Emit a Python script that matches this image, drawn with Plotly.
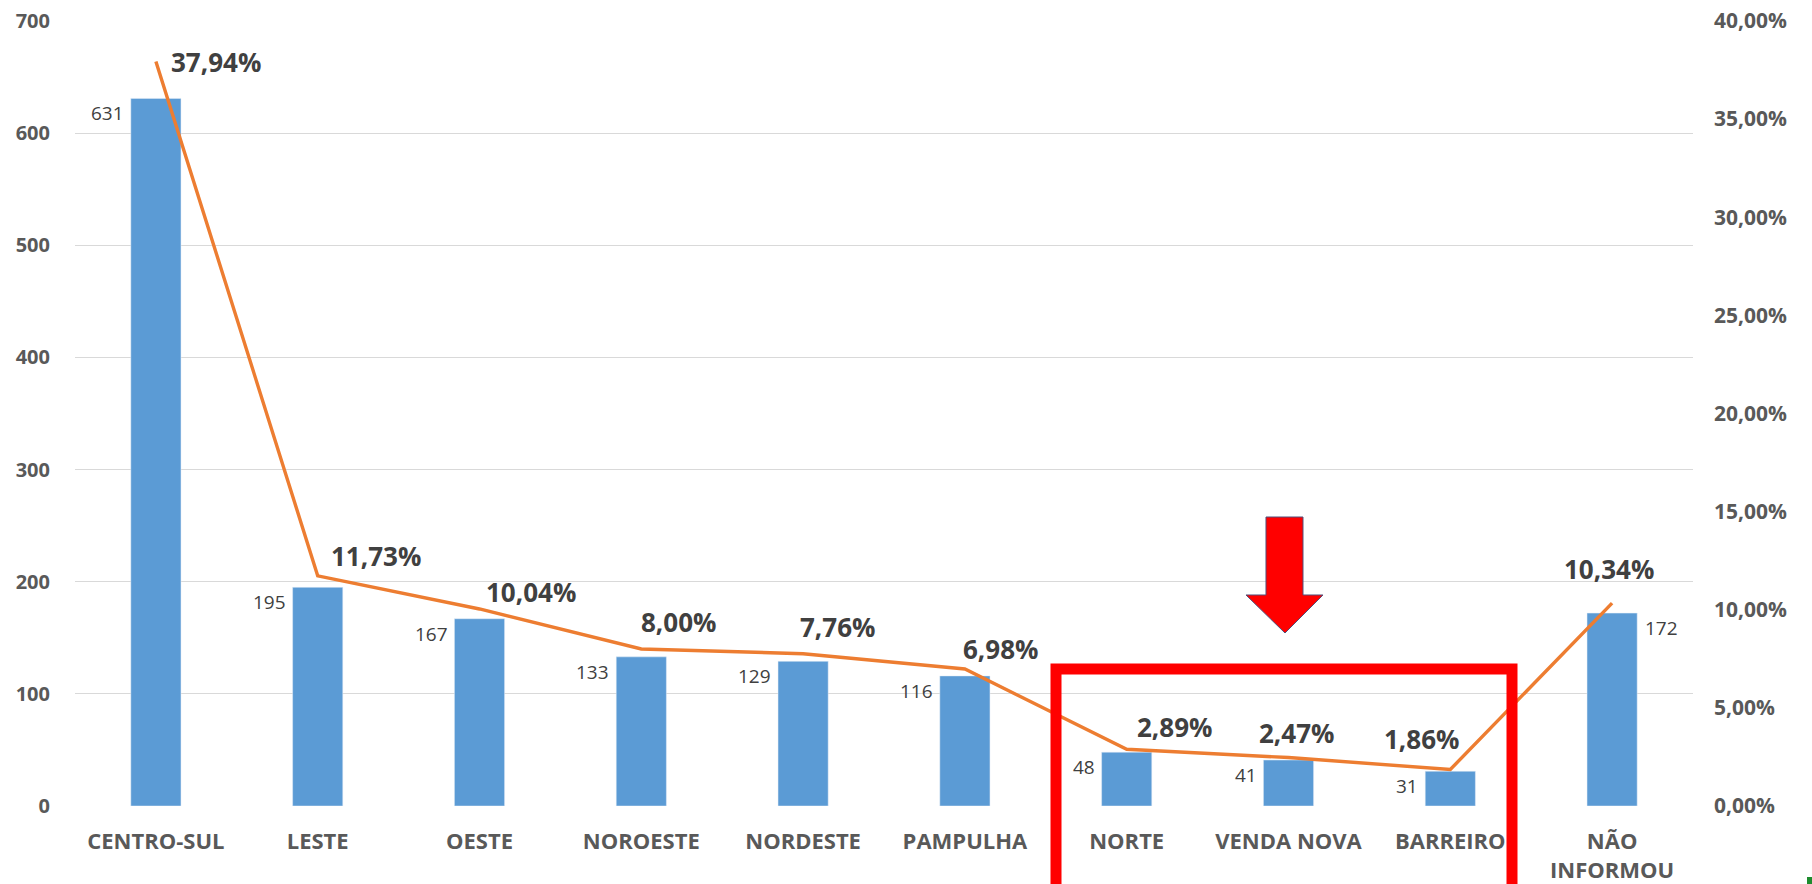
import plotly.graph_objects as go

# ---------------- data ----------------
categories = ["CENTRO-SUL", "LESTE", "OESTE", "NOROESTE", "NORDESTE",
              "PAMPULHA", "NORTE", "VENDA NOVA", "BARREIRO", "NÃO<br>INFORMOU"]
counts = [631, 195, 167, 133, 129, 116, 48, 41, 31, 172]
percents = [37.94, 11.73, 10.04, 8.00, 7.76, 6.98, 2.89, 2.47, 1.86, 10.34]
left_ticks = [0, 100, 200, 300, 400, 500, 600, 700]
right_ticks = [0, 5, 10, 15, 20, 25, 30, 35, 40]
right_tick_text = [f"{t:.2f}%".replace(".", ",") for t in right_ticks]

# ---------------- style ----------------
W, H = 1812, 884
ML, MR, MT, MB = 75, 119, 21, 78
BAR_COLOR = "#5B9BD5"
LINE_COLOR = "#ED7D31"
GRID = "#D9D9D9"
AXIS_TXT = "#595959"
LBL_TXT = "#404040"
FONT = "Open Sans, Noto Sans, sans-serif"

# pixel offsets of the percent labels relative to their point (dx, dy up)
pct_shift = [(60, -1), (58, 20), (51, 17), (37, 27), (34, 27),
             (36, 20), (48, 22), (8, 25), (-29, 31), (-3, 34)]
# which side of the bar the count label sits on
count_side = ["left"] * 9 + ["right"]

fig = go.Figure()
fig.add_trace(go.Bar(
    x=categories, y=counts, marker_color=BAR_COLOR, width=0.31,
    yaxis="y", hoverinfo="skip", showlegend=False))
fig.add_trace(go.Scatter(
    x=categories, y=percents, mode="lines", yaxis="y2",
    line=dict(color=LINE_COLOR, width=3.4), hoverinfo="skip", showlegend=False))

annotations = []
for c, v, side in zip(categories, counts, count_side):
    annotations.append(dict(
        x=c, y=v, xref="x", yref="y", text=str(v), showarrow=False,
        xanchor="right" if side == "left" else "left", yanchor="middle",
        xshift=-30 if side == "left" else 31, yshift=-15,
        font=dict(family=FONT, size=19, color=LBL_TXT)))
for c, p, (dx, dy) in zip(categories, percents, pct_shift):
    annotations.append(dict(
        x=c, y=p, xref="x", yref="y2",
        text=f"<b>{p:.2f}%</b>".replace(".", ","), showarrow=False,
        xanchor="center", yanchor="middle", xshift=dx, yshift=dy,
        font=dict(family=FONT, size=26, color=LBL_TXT)))


def px(x):
    return (x - ML) / (W - ML - MR)


def py(y):
    return (H - MB - y) / (H - MT - MB)


shapes = []
# red highlight box (open at the bottom edge of the picture)
shapes.append(dict(type="rect", xref="paper", yref="paper",
                   x0=px(1056), x1=px(1512), y0=py(905), y1=py(669),
                   line=dict(color="#FF0000", width=11), fillcolor="rgba(0,0,0,0)",
                   layer="above"))
# red down arrow
pts = [(1266, 517), (1303, 517), (1303, 595), (1323, 595), (1285, 633),
       (1246, 595), (1266, 595)]
path = "M " + " L ".join(f"{px(a):.5f},{py(b):.5f}" for a, b in pts) + " Z"
shapes.append(dict(type="path", xref="paper", yref="paper", path=path,
                   fillcolor="#FF0000", line=dict(color="#4F4F7A", width=1),
                   layer="above"))
# small green corner fragment
shapes.append(dict(type="rect", xref="paper", yref="paper",
                   x0=px(1807), x1=px(1814), y0=py(886), y1=py(877),
                   fillcolor="#1E8C2E", line=dict(width=0)))

fig.update_layout(
    width=W, height=H,
    margin=dict(l=ML, r=MR, t=MT, b=MB, pad=0, autoexpand=False),
    paper_bgcolor="white", plot_bgcolor="white",
    separators=",.",
    xaxis=dict(type="category", range=[-0.5, 9.5], showgrid=False,
               showline=False, zeroline=False, ticks="", automargin=False,
               tickfont=dict(family=FONT, size=22, color=AXIS_TXT, weight="bold"),
               ticklabelstandoff=20),
    yaxis=dict(range=[0, 700], tickvals=left_ticks, showgrid=True, automargin=False,
               gridcolor=GRID, gridwidth=1.3, zeroline=False, showline=False,
               ticks="", tickfont=dict(family=FONT, size=20, color=AXIS_TXT, weight="bold"),
               ticklabelstandoff=24),
    yaxis2=dict(range=[0, 40], tickvals=right_ticks, ticktext=right_tick_text,
                overlaying="y", side="right", automargin=False,
                showgrid=False, zeroline=False, showline=False, ticks="",
                tickfont=dict(family=FONT, size=21, color=AXIS_TXT, weight="bold"),
                ticklabelstandoff=20),
    annotations=annotations,
    shapes=shapes,
)

fig.write_html("out.html", config={"displayModeBar": False},
               post_script="document.body.style.margin='0';document.body.style.overflow='hidden';")
